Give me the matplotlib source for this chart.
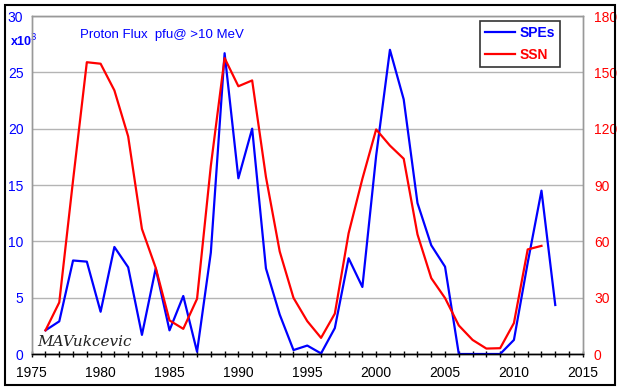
import matplotlib
matplotlib.use("Agg")
import matplotlib.pyplot as plt
from matplotlib.patches import Rectangle

plt.rcParams['font.family'] = ['Liberation Sans', 'DejaVu Sans']

# yearly values
years_spe = list(range(1976, 2014))
spe_k = [2.1, 2.9, 8.3, 8.2, 3.75, 9.5, 7.7, 1.7, 7.6, 2.1,
         5.15, 0.2, 9.0, 26.7, 15.6, 20.0, 7.6, 3.5, 0.35, 0.75,
         0.05, 2.3, 8.5, 5.95, 17.6, 27.0, 22.6, 13.4, 9.65, 7.75,
         0.0, 0.0, 0.0, 0.0, 1.25, 8.1, 14.5, 4.35]

years_ssn = list(range(1976, 2013))
ssn = [12.6, 27.5, 92.5, 155.4, 154.6, 140.4, 115.9, 66.6, 45.9, 17.9,
       13.4, 29.4, 100.2, 157.6, 142.6, 145.7, 94.3, 54.6, 29.9, 17.5,
       8.6, 21.5, 64.3, 93.3, 119.6, 111.0, 104.0, 63.7, 40.4, 29.8,
       15.2, 7.5, 2.9, 3.1, 16.5, 55.7, 57.6]

left_ticks = [0, 5, 10, 15, 20, 25, 30]
right_ticks = [0, 30, 60, 90, 120, 150, 180]
x_major = [1975, 1980, 1985, 1990, 1995, 2000, 2005, 2010, 2015]

fig = plt.figure(figsize=(6.22, 3.91), dpi=100)
ax = fig.add_axes([0.051, 0.0946, 0.886, 0.8644])
ax2 = ax.twinx()

l1, = ax.plot(years_spe, spe_k, color='#0000ff', lw=1.6, label='SPEs')
l2, = ax2.plot(years_ssn, ssn, color='#ff0000', lw=1.6, label='SSN')

ax.set_xlim(1975, 2015)
ax.set_ylim(0, 30)
ax2.set_ylim(0, 180)
ax.set_yticks(left_ticks)
ax2.set_yticks(right_ticks)
ax.set_xticks(x_major)
ax.set_xticks(range(1975, 2016), minor=True)

ax.grid(axis='y', color='#b4b4b4', lw=1.0)
ax.set_axisbelow(True)

for a in (ax, ax2):
    for s in ('left', 'right', 'top'):
        a.spines[s].set_color('#999999')
        a.spines[s].set_linewidth(1.0)
    a.spines['bottom'].set_color('black')
    a.spines['bottom'].set_linewidth(1.0)

ax.tick_params(axis='y', length=0, labelcolor='#0000ff', labelsize=10, pad=6)
ax2.tick_params(axis='y', length=0, labelcolor='#ff0000', labelsize=10, pad=8)
ax.tick_params(axis='x', which='both', direction='inout', length=5, width=1,
               labelsize=10, pad=6, labelcolor='black')

ax.text(-0.04, 0.925, r'x10$^3$', transform=ax.transAxes, color='#0000ff',
        fontsize=9, fontweight='bold', ha='left', va='center')
ax.text(0.088, 0.945, 'Proton Flux  pfu@ >10 MeV', transform=ax.transAxes,
        color='#0000ff', fontsize=9.5, ha='left', va='center')
ax.text(0.01, 0.035, 'MAVukcevic', transform=ax.transAxes, color='#222222',
        fontsize=11, family='DejaVu Serif', style='italic', ha='left', va='center')

leg = ax.legend(handles=[l1, l2], loc='upper right', bbox_to_anchor=(0.958, 0.984),
                frameon=True, fancybox=False, handlelength=2.2, handletextpad=0.3,
                borderpad=0.35, labelspacing=0.55, borderaxespad=0,
                prop={'weight': 'bold', 'size': 10})
leg.get_frame().set_edgecolor('black')
leg.get_frame().set_linewidth(1.2)
for t, c in zip(leg.get_texts(), ['#0000ff', '#ff0000']):
    t.set_color(c)

fig.patches.append(Rectangle((5 / 622, 6 / 391), 610 / 622, 380 / 391,
                             transform=fig.transFigure, fill=False,
                             edgecolor='black', lw=1.5))

fig.savefig('out.png', dpi=100)
